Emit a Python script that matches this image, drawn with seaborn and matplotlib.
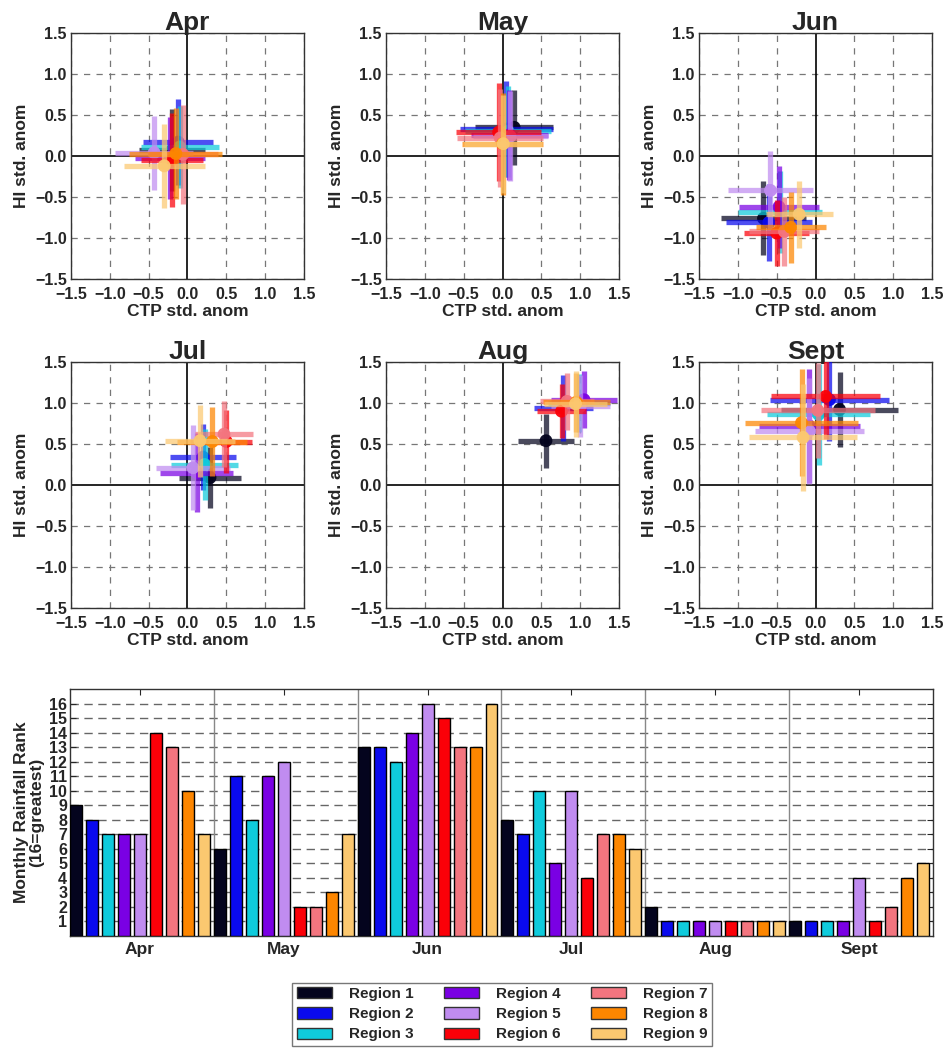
import numpy as np
import pandas as pd
import matplotlib
matplotlib.use("Agg")
import matplotlib.pyplot as plt
import seaborn as sns
from matplotlib.patches import Patch

sns.set_style("white")
plt.rcParams['font.family'] = ['Liberation Sans', 'DejaVu Sans']
plt.rcParams['font.weight'] = 'bold'
plt.rcParams['axes.labelweight'] = 'bold'

months = ["Apr", "May", "Jun", "Jul", "Aug", "Sept"]
regions = [f"Region {i}" for i in range(1, 10)]
region_colors = ["#04041e", "#0a0aee", "#0fcbdc", "#7a00e4", "#c08cf0",
                 "#fb0008", "#f3757f", "#fd8600", "#fbc870"]

# CTP std. anomaly (x centre) per month, regions 1..9
ctp_anom = {
    "Apr":  [-0.20, -0.12, -0.10, -0.22, -0.43, -0.20, -0.06, -0.15, -0.30],
    "May":  [0.15, 0.05, 0.07, 0.09, 0.10, -0.05, -0.03, 0.00, 0.01],
    "Jun":  [-0.67, -0.60, -0.46, -0.47, -0.58, -0.50, -0.40, -0.32, -0.21],
    "Jul":  [0.29, 0.20, 0.22, 0.12, 0.07, 0.50, 0.47, 0.32, 0.16],
    "Aug":  [0.56, 0.78, 0.98, 1.05, 1.00, 0.76, 0.83, 0.95, 0.94],
    "Sept": [0.31, 0.18, 0.04, -0.08, -0.08, 0.13, 0.03, -0.18, -0.16],
}
# HI std. anomaly (y centre)
hi_anom = {
    "Apr":  [0.07, 0.17, 0.11, -0.03, 0.04, -0.05, 0.02, 0.03, -0.12],
    "May":  [0.35, 0.33, 0.30, 0.26, 0.24, 0.29, 0.22, 0.15, 0.15],
    "Jun":  [-0.76, -0.81, -0.68, -0.62, -0.42, -0.94, -0.92, -0.87, -0.71],
    "Jul":  [0.09, 0.34, 0.25, 0.15, 0.21, 0.53, 0.62, 0.53, 0.54],
    "Aug":  [0.54, 0.94, 1.00, 1.04, 0.96, 0.90, 1.02, 1.01, 0.99],
    "Sept": [0.92, 1.04, 0.86, 0.72, 0.66, 1.08, 0.91, 0.76, 0.58],
}
# CTP error half-widths
ctp_err = {
    "Apr":  [0.42, 0.45, 0.50, 0.45, 0.50, 0.40, 0.45, 0.60, 0.52],
    "May":  [0.50, 0.60, 0.55, 0.50, 0.48, 0.55, 0.55, 0.52, 0.50],
    "Jun":  [0.55, 0.55, 0.54, 0.52, 0.55, 0.42, 0.45, 0.45, 0.43],
    "Jul":  [0.40, 0.42, 0.43, 0.47, 0.48, 0.33, 0.37, 0.45, 0.45],
    "Aug":  [0.36, 0.38, 0.40, 0.42, 0.38, 0.32, 0.35, 0.43, 0.40],
    "Sept": [0.75, 0.76, 0.66, 0.65, 0.70, 0.70, 0.73, 0.73, 0.70],
}
# HI error half-heights
hi_err = {
    "Apr":  [0.50, 0.52, 0.50, 0.50, 0.45, 0.57, 0.60, 0.56, 0.51],
    "May":  [0.46, 0.58, 0.55, 0.55, 0.55, 0.60, 0.60, 0.62, 0.60],
    "Jun":  [0.45, 0.47, 0.50, 0.50, 0.48, 0.40, 0.42, 0.43, 0.41],
    "Jul":  [0.37, 0.40, 0.43, 0.48, 0.52, 0.38, 0.40, 0.42, 0.44],
    "Aug":  [0.33, 0.40, 0.35, 0.35, 0.38, 0.33, 0.35, 0.36, 0.40],
    "Sept": [0.46, 0.50, 0.62, 0.70, 0.65, 0.52, 0.58, 0.65, 0.65],
}
# Monthly rainfall rank (16 = greatest)
rank = {
    "Apr":  [9, 8, 7, 7, 7, 14, 13, 10, 7],
    "May":  [6, 11, 8, 11, 12, 2, 2, 3, 7],
    "Jun":  [13, 13, 12, 14, 16, 15, 13, 13, 16],
    "Jul":  [8, 7, 10, 5, 10, 4, 7, 7, 6],
    "Aug":  [2, 1, 1, 1, 1, 1, 1, 1, 1],
    "Sept": [1, 1, 1, 1, 4, 1, 2, 4, 5],
}

W, H = 945, 1051
fig = plt.figure(figsize=(W / 100, H / 100), dpi=100)

lefts = [71, 386, 699]
tops = [33, 362]
aw, ah = 233, 246
ticks = [-1.5, -1.0, -0.5, 0.0, 0.5, 1.0, 1.5]
ticklabels = ["\u22121.5", "\u22121.0", "\u22120.5", "0.0", "0.5", "1.0", "1.5"]

for k, m in enumerate(months):
    r, c = divmod(k, 3)
    ax = fig.add_axes([lefts[c] / W, 1 - (tops[r] + ah) / H, aw / W, ah / H])
    for v in [-1.5, -1.0, -0.5, 0.5, 1.0, 1.5]:
        ax.axvline(v, color="#777777", lw=0.9, ls=(0, (5, 5)), zorder=0)
        ax.axhline(v, color="#777777", lw=0.9, ls=(0, (5, 5)), zorder=0)
    ax.axvline(0, color="black", lw=1.2, zorder=1)
    ax.axhline(0, color="black", lw=1.2, zorder=1)
    dfm = pd.DataFrame({"ctp": ctp_anom[m], "hi": hi_anom[m], "region": regions})
    for i in range(9):
        ax.errorbar(ctp_anom[m][i], hi_anom[m][i], xerr=ctp_err[m][i],
                    yerr=hi_err[m][i], fmt="none", ecolor=region_colors[i],
                    elinewidth=3.8, alpha=0.72, capsize=0, zorder=2 + 2 * i)
        sns.scatterplot(data=dfm.iloc[[i]], x="ctp", y="hi", color=region_colors[i],
                        s=85, edgecolor="none", alpha=0.95, legend=False, ax=ax,
                        zorder=3 + 2 * i)
    ax.set_xlim(-1.5, 1.5)
    ax.set_ylim(-1.5, 1.5)
    ax.set_xticks(ticks)
    ax.set_yticks(ticks)
    ax.set_xticklabels(ticklabels, fontsize=11.5, fontweight="bold")
    ax.set_yticklabels(ticklabels, fontsize=11.5, fontweight="bold")
    ax.tick_params(axis="y", direction="in", length=0, pad=3)
    ax.tick_params(axis="x", direction="in", length=0, pad=6)
    ax.set_xlabel("CTP std. anom", fontsize=12.5, fontweight="bold", labelpad=1)
    ax.set_ylabel("HI std. anom", fontsize=12.5, fontweight="bold", labelpad=4)
    ax.set_title(m, fontsize=19, fontweight="bold", pad=2)
    for s in ax.spines.values():
        s.set_color("#333333")
        s.set_linewidth(1.0)

# Bar chart
axb = fig.add_axes([70 / W, 1 - 936 / H, 863 / W, 247 / H])
df_rank = pd.DataFrame([(m, regions[i], rank[m][i]) for m in months for i in range(9)],
                       columns=["month", "region", "rank"])
for v in range(1, 17):
    axb.axhline(v, color="#666666", lw=1.0, ls=(0, (6, 4)), zorder=0)
sns.barplot(data=df_rank, x="month", y="rank", hue="region", order=months,
            hue_order=regions, palette=region_colors, width=1.0, gap=0.25,
            edgecolor="black", linewidth=1.0, legend=False, ax=axb, zorder=3,
            saturation=1)
shift = 0.014
for k in range(1, 6):
    axb.axvline(k - 0.5 + shift, color="#888888", lw=1.0, zorder=1)
axb.set_xlim(-0.5 + shift, 5.5 + shift)
axb.set_ylim(0, 17)
axb.set_yticks(range(1, 17))
axb.set_yticklabels([str(v) for v in range(1, 17)], fontsize=11.5, fontweight="bold")
axb.set_xticklabels(months, fontsize=12.5, fontweight="bold")
axb.tick_params(axis="y", direction="in", length=4, left=True, right=True, pad=2)
axb.tick_params(axis="x", direction="in", length=4, bottom=False, top=True, pad=4)
axb.set_xlabel("")
axb.set_ylabel("Monthly Rainfall Rank\n(16=greatest)", fontsize=12.5,
               fontweight="bold", labelpad=4, linespacing=1.0)
for s in axb.spines.values():
    s.set_color("#333333")
    s.set_linewidth(1.0)

handles = [Patch(facecolor=region_colors[i], edgecolor="#333333", label=regions[i])
           for i in range(9)]
leg = fig.legend(handles=handles, ncol=3, loc="upper center",
                 bbox_to_anchor=(502 / W, 1 - 975 / H), frameon=True,
                 fancybox=False, edgecolor="#555555",
                 prop={"size": 11, "weight": "bold"},
                 handlelength=2.3, handleheight=0.75, columnspacing=2.0,
                 labelspacing=0.4, handletextpad=1.1, borderpad=0.3)
leg.get_frame().set_linewidth(1.0)

fig.savefig("out.png", dpi=100)
